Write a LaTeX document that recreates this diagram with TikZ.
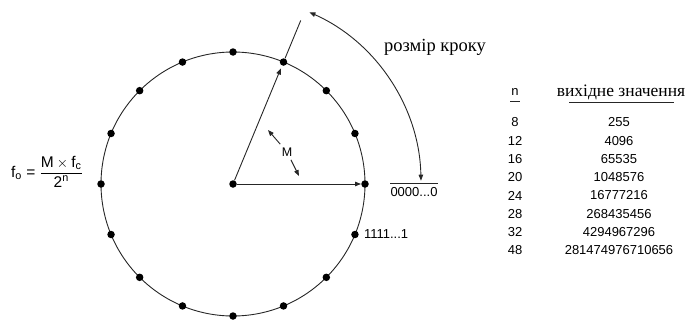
\documentclass[tikz,border=0pt]{standalone}
\usepackage{fontspec}
\usepackage{amsmath}
\setmainfont{Liberation Serif}
\setsansfont{Liberation Sans}
\usetikzlibrary{arrows.meta, positioning}

\begin{document}
\begin{tikzpicture}[x=1pt, y=1pt, >={Triangle[length=6pt, width=4.5pt]},
  dot/.style={circle, fill=black, inner sep=0pt, minimum size=7.5pt},
  num/.style={font=\sffamily\fontsize{13}{15}\selectfont, inner sep=1pt},
  cyr/.style={font=\fontsize{17.5}{20}\selectfont, inner sep=1pt},
  line/.style={line width=0.9pt, draw=black!85}]
\useasboundingbox (0,0) rectangle (689,325);
\node[dot] (c) at (233,141) {};
\draw[line] (c) circle[radius=132];
\foreach \i in {0,...,15}
  \node[dot] (d\i) at ([shift={(\i*22.5:132)}]c) {};
\draw[line, ->] (c) -- (d0);
\draw[line, ->, shorten >=3pt] (c) -- (d3);
\coordinate (tip) at ([shift={(67.5:177)}]c);
\draw[line] (d3) -- (tip);
\coordinate (arcstart) at ([shift={(66:188)}]c);
\draw[line, <->] (arcstart) arc[start angle=66, end angle=1, radius=188];
\node[cyr, font=\fontsize{18.5}{20}\selectfont] (step) at (435,278) {розмір кроку};
\node[font=\sffamily\fontsize{12.5}{14}\selectfont] (M) at (287,173) {M};
\coordinate (ma) at (268,195);
\coordinate (mb) at (299,149);
\draw[line, ->] (M) -- (ma);
\draw[line, ->] (M) -- (mb);
\node[num, anchor=north] (zero) at (414,139) {0000...0};
\draw[line] (390,142) -- (438,142);
\node[num, anchor=west] (ones) at ([xshift=4pt]d15.east) {1111...1};
\node[font=\sffamily\fontsize{15.5}{18}\selectfont] (fo) at (47,153)
  {f\textsubscript{o} = $\dfrac{\text{M} \times \text{f}_{\text{c}}}{\text{2}^{\text{n}}}$};
\node[num] (hn) at (515,233) {n};
\draw[line] (510,224) -- (520,224);
\node[cyr] (hv) at (621,233) {вихідне значення};
\draw[line] (569,223) -- (674,223);
\foreach \n/\v [count=\k] in {8/255, 12/4096, 16/65535, 20/1048576, 24/16777216,
    28/268435456, 32/4294967296, 48/281474976710656} {
  \node[num] (n\k) at (515,221-\k*18.3) {\n};
  \node[num] (v\k) at (619,221-\k*18.3) {\v};
}
\end{tikzpicture}
\end{document}
